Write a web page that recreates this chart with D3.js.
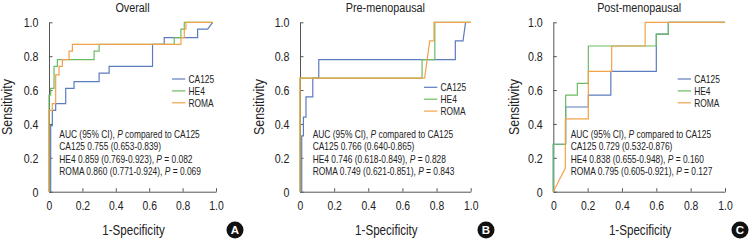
<!DOCTYPE html>
<html><head><meta charset="utf-8">
<script src="https://cdn.jsdelivr.net/npm/d3@7"></script>
<style>
html,body{margin:0;padding:0;background:#fff;}
svg{display:block;font-family:"Liberation Sans",Arial,sans-serif;}
</style></head>
<body><svg id="c" width="751" height="241"></svg>
<script>
// ---------------- data ----------------
const panelTitles = ["Overall", "Pre-menopausal", "Post-menopausal"];
const panelBadges = ["A", "B", "C"];
const seriesNames = ["CA125", "HE4", "ROMA"];
const tickValues = [0, 0.2, 0.4, 0.6, 0.8, 1.0];
const tickLabels = ["0", "0.2", "0.4", "0.6", "0.8", "1.0"];
const xTitle = "1-Specificity";
const yTitle = "Sensitivity";

// ROC points [1-specificity, sensitivity]
const overallCA125 = [[0,0],[0.01,0],[0.01,0.39],[0.02,0.39],[0.02,0.48],[0.04,0.48],[0.04,0.52],[0.10,0.52],[0.10,0.61],[0.15,0.61],[0.15,0.65],[0.30,0.65],[0.30,0.70],[0.36,0.70],[0.36,0.74],[0.62,0.74],[0.62,0.87],[0.69,0.87],[0.69,0.91],[0.89,0.91],[0.89,0.96],[0.95,0.96],[0.98,1.0]];
const overallHE4 = [[0,0],[0,0.57],[0.01,0.57],[0.01,0.61],[0.03,0.61],[0.03,0.74],[0.05,0.74],[0.05,0.78],[0.27,0.78],[0.27,0.83],[0.30,0.83],[0.30,0.87],[0.75,0.87],[0.75,0.91],[0.79,0.91],[0.79,0.96],[0.81,0.96],[0.81,1.0],[0.98,1.0]];
const overallROMA = [[0,0],[0,0.48],[0.02,0.48],[0.02,0.52],[0.04,0.52],[0.04,0.69],[0.06,0.69],[0.06,0.74],[0.08,0.74],[0.08,0.78],[0.12,0.78],[0.12,0.83],[0.14,0.83],[0.14,0.87],[0.79,0.87],[0.79,0.91],[0.81,0.91],[0.81,0.96],[0.82,0.96],[0.82,1.0],[0.98,1.0]];

const preCA125 = [[0,0],[0.01,0],[0.01,0.33],[0.02,0.33],[0.02,0.44],[0.035,0.44],[0.035,0.56],[0.075,0.56],[0.075,0.67],[0.11,0.67],[0.11,0.78],[0.91,0.78],[0.91,0.89],[0.955,0.89],[0.97,1.0]];
const preHE4 = [[0,0],[0,0.67],[0.715,0.67],[0.715,0.78],[0.79,0.78],[0.79,1.0],[1.0,1.0]];
const preROMA = [[0,0],[0,0.67],[0.73,0.67],[0.745,0.78],[0.76,0.89],[0.785,0.89],[0.785,1.0],[1.0,1.0]];

const postCA125 = [[0,0],[0,0.28],[0.072,0.28],[0.072,0.5],[0.204,0.5],[0.204,0.57],[0.335,0.57],[0.335,0.71],[0.6,0.71],[0.6,0.93],[0.67,0.93],[0.67,1.0],[1.0,1.0]];
const postHE4 = [[0,0],[0,0.28],[0.072,0.28],[0.072,0.57],[0.14,0.57],[0.14,0.64],[0.204,0.64],[0.204,0.86],[0.6,0.86],[0.6,0.93],[0.67,0.93],[0.67,1.0],[1.0,1.0]];
const postROMA = [[0,0],[0.07,0.14],[0.07,0.43],[0.204,0.43],[0.204,0.71],[0.34,0.71],[0.34,0.86],[0.535,0.86],[0.535,1.0],[1.0,1.0]];

const aucLines = [
  ["CA125 0.755 (0.653-0.839)", "HE4 0.859 (0.769-0.923), ", "0.082", "ROMA 0.860 (0.771-0.924), ", "0.069"],
  ["CA125 0.766 (0.640-0.865)", "HE4 0.746 (0.618-0.849), ", "0.828", "ROMA 0.749 (0.621-0.851), ", "0.843"],
  ["CA125 0.729 (0.532-0.876)", "HE4 0.838 (0.655-0.948), ", "0.160", "ROMA 0.795 (0.605-0.921), ", "0.127"]
];
const panelSeries = [
  [overallCA125, overallHE4, overallROMA],
  [preCA125, preHE4, preROMA],
  [postCA125, postHE4, postROMA]
];
const colors = ["#5b7cbf", "#6bbb63", "#f2a24a"];

// ---------------- layout ----------------
const layouts = [
  {x0:49, x1:216, legX:172, legY:79, annX:59.3, yLabX:7, badgeX:235},
  {x0:300, x1:470.7, legX:424, legY:87.3, annX:312.7, yLabX:259.5, badgeX:486},
  {x0:553.3, x1:725, legX:677.7, legY:79, annX:570.7, yLabX:514, badgeX:740}
];
const yTop = 22.3, yBot = 191.7;
const SX = 0.8;
const textCol = "#222", axisCol = "#555";

const svg = d3.select("#c");

function ctext(g, x, y, str, size, anchor) {
  const t = g.append("text")
    .attr("transform", `translate(${x},${y}) scale(${SX},1)`)
    .attr("font-size", size).attr("fill", textCol)
    .attr("text-anchor", anchor || "start");
  if (str !== null) t.text(str);
  return t;
}

panelTitles.forEach((title, i) => {
  const L = layouts[i];
  const g = svg.append("g");
  const x = d3.scaleLinear().domain([0, 1]).range([L.x0, L.x1]);
  const y = d3.scaleLinear().domain([0, 1]).range([yBot, yTop]);

  // axes
  const yAx = g.append("g").attr("transform", `translate(${L.x0},0)`)
    .call(d3.axisLeft(y).tickValues(tickValues).tickFormat((d, k) => tickLabels[k])
      .tickSizeInner(-3.5).tickSizeOuter(0).tickPadding(0));
  const xAx = g.append("g").attr("transform", `translate(0,${yBot})`)
    .call(d3.axisBottom(x).tickValues(tickValues).tickFormat((d, k) => tickLabels[k])
      .tickSizeInner(-3.5).tickSizeOuter(0).tickPadding(0));
  [yAx, xAx].forEach(a => {
    a.select(".domain").attr("stroke", axisCol).attr("stroke-width", 1);
    a.selectAll(".tick line").attr("stroke", axisCol).attr("stroke-width", 1);
    a.selectAll("text").attr("font-size", 13).attr("fill", textCol)
      .attr("font-family", '"Liberation Sans",Arial,sans-serif');
  });
  yAx.selectAll("text").attr("x", 0).attr("dy", null)
    .attr("transform", `translate(-10.5,4.6) scale(${SX + 0.02},1)`);
  xAx.selectAll("text").attr("y", 0).attr("dy", null)
    .attr("transform", `translate(0,18) scale(${SX},1)`);

  // curves
  const line = d3.line().x(d => x(d[0])).y(d => y(d[1]));
  panelSeries[i].forEach((pts, s) => {
    g.append("path").datum(pts).attr("d", line)
      .attr("fill", "none").attr("stroke", colors[s]).attr("stroke-width", 1.2)
      .attr("stroke-linejoin", "miter");
  });

  // title
  ctext(g, (L.x0 + L.x1) / 2, 12, title, 13.5, "middle");
  // axis titles
  ctext(g, (L.x0 + L.x1) / 2 + 1, 235, xTitle, 14.5, "middle");
  g.append("text")
    .attr("transform", `translate(${L.yLabX + 4.5},${(yTop + yBot) / 2}) rotate(-90) scale(0.86,1)`)
    .attr("font-size", 14.5).attr("fill", textCol).attr("text-anchor", "middle").text(yTitle);

  // legend
  seriesNames.forEach((nm, s) => {
    const ly = L.legY + s * 11.9;
    g.append("line").attr("x1", L.legX).attr("x2", L.legX + 13.3)
      .attr("y1", ly).attr("y2", ly).attr("stroke", colors[s]).attr("stroke-width", 1.2);
    ctext(g, L.legX + 16.5, ly + 3.7, nm, 10.5);
  });

  // AUC annotation
  const a = aucLines[i];
  const by = 138, dy = 12.45;
  const t0 = ctext(g, L.annX, by, null, 10.5);
  t0.append("tspan").text("AUC (95% CI), ");
  t0.append("tspan").attr("font-style", "italic").text("P");
  t0.append("tspan").text(" compared to CA125");
  ctext(g, L.annX, by + dy, a[0], 10.5);
  const t2 = ctext(g, L.annX, by + 2 * dy, null, 10.5);
  t2.append("tspan").text(a[1]);
  t2.append("tspan").attr("font-style", "italic").text("P");
  t2.append("tspan").text(" = " + a[2]);
  const t3 = ctext(g, L.annX, by + 3 * dy, null, 10.5);
  t3.append("tspan").text(a[3]);
  t3.append("tspan").attr("font-style", "italic").text("P");
  t3.append("tspan").text(" = " + a[4]);

  // badge
  g.append("circle").attr("cx", L.badgeX).attr("cy", 230).attr("r", 8.5).attr("fill", "#111");
  g.append("text").attr("x", L.badgeX).attr("y", 234.2).attr("text-anchor", "middle")
    .attr("font-size", 11.5).attr("font-weight", "bold").attr("fill", "#fff").text(panelBadges[i]);
});
</script></body></html>
